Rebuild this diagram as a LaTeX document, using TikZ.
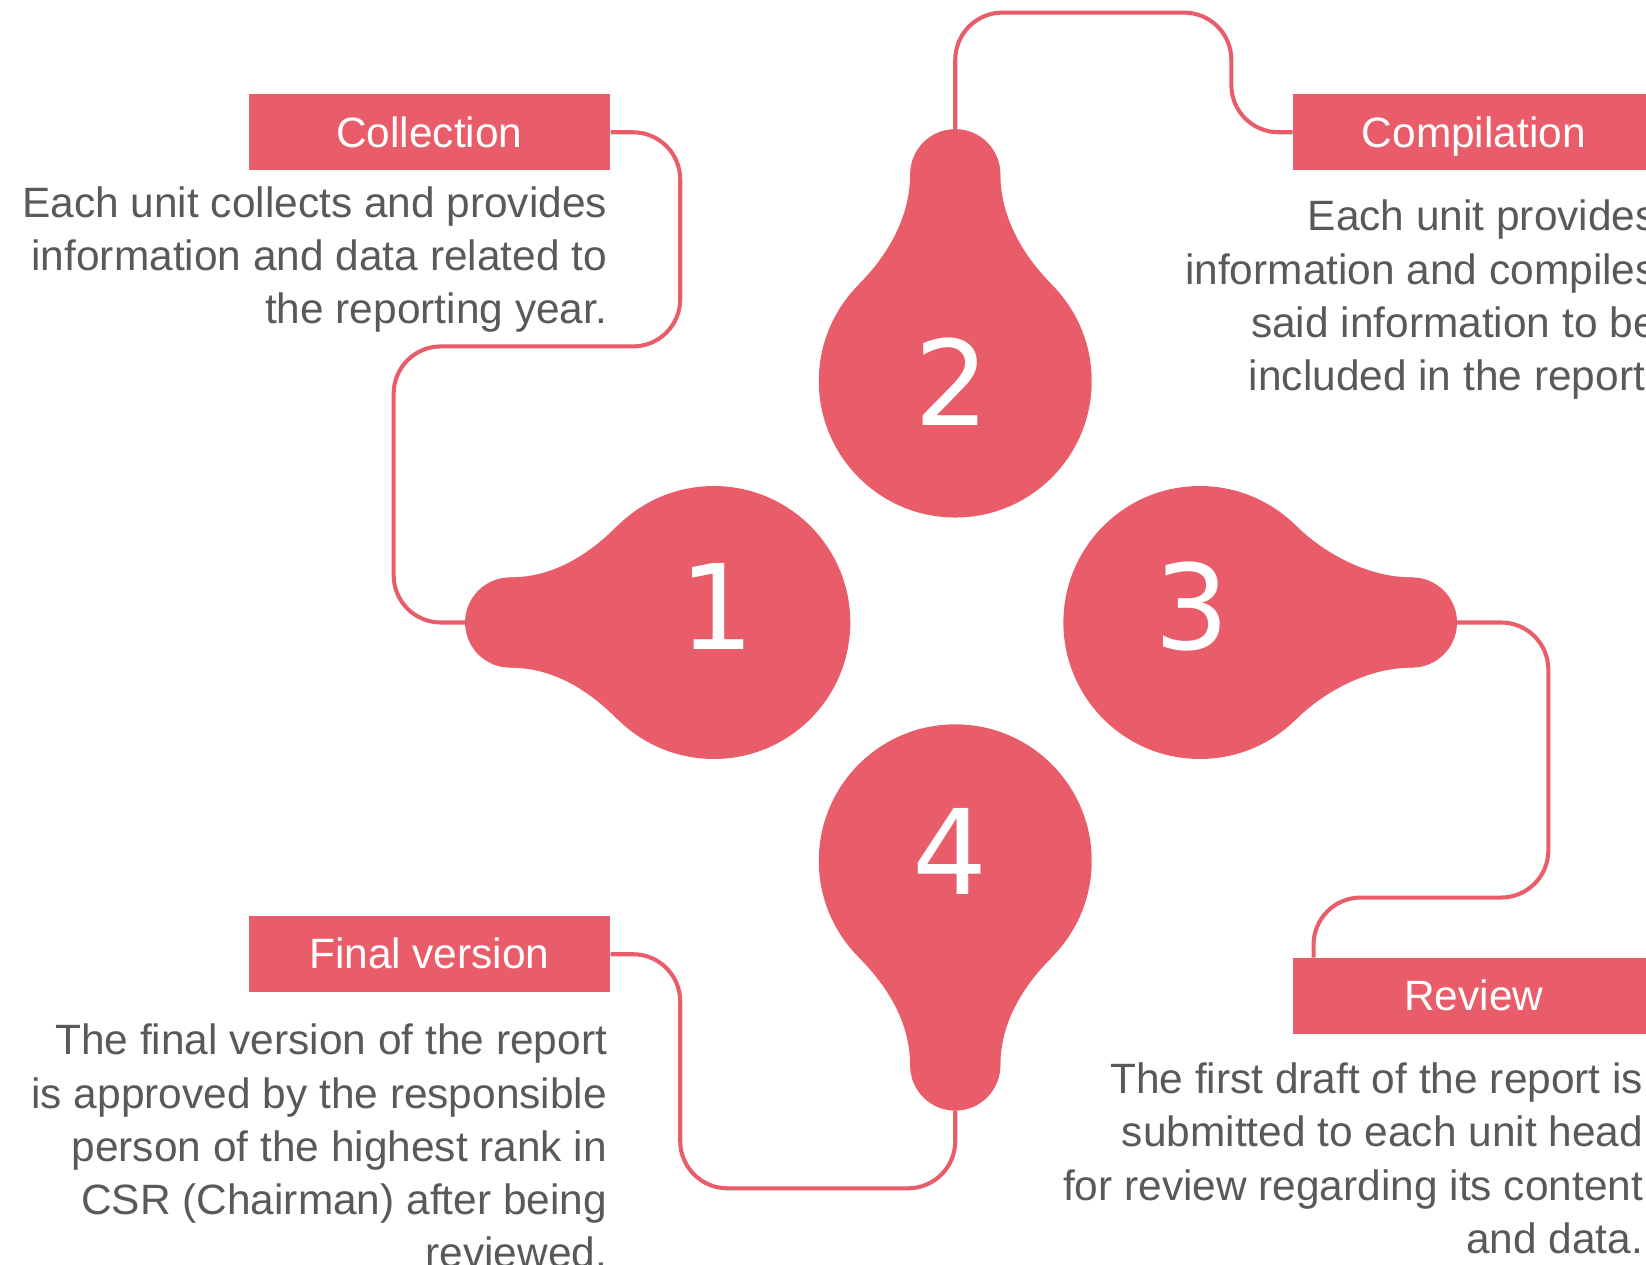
\documentclass[tikz,border=0pt]{standalone}
\usepackage{fontspec}
\setmainfont{Liberation Sans}
\newfontfamily\numfont{DejaVu Sans}
\usepackage{xcolor}
\definecolor{bulbred}{HTML}{E95D6A}
\definecolor{textgray}{HTML}{595959}
\tikzset{
    title_box/.style = {rectangle, fill=bulbred, text=white, minimum width=34.4mm, minimum height=7.2mm, inner sep=0pt, text height=8.5pt, text depth=0.5pt, font=\fontsize{11.5pt}{14pt}\selectfont},
    desc_text/.style = {align=right, inner sep=0pt, text=textgray, font=\fontsize{11.5pt}{14.4pt}\selectfont},
    num_text/.style = {inner sep=0pt, text=white, font=\numfont\fontsize{32pt}{36pt}\selectfont},
    link_line/.style = {draw=bulbred, line width=1.1pt, rounded corners=4.5mm},
    bulb/.pic = {
        \fill[bulbred] (0,0) circle[radius=13mm];
        \fill[bulbred] (-#1,0) circle[radius=4.3mm];
        \fill[bulbred] (-#1,-43) .. controls (-#1+45,-43) and (-115,-69) .. (-92,-92)
            -- (-92,92) .. controls (-115,69) and (-#1+45,43) .. (-#1,43) -- cycle;
        \coordinate (-tip) at (-#1-43,0);
    }
}

\begin{document}
\begin{tikzpicture}[x=0.1mm, y=-0.1mm]
    \useasboundingbox (0,0) rectangle (1568,1205);

    % the four bulbs
    \pic (b1) at (680,593) {bulb=194};
    \pic[rotate=-90] (b2) at (910,363) {bulb=197};
    \pic[rotate=180] (b3) at (1143,593) {bulb=202};
    \pic[rotate=90] (b4) at (910,820) {bulb=195};

    \node[num_text] (n1) at (683,578) {1};
    \node[num_text] (n2) at (907,364) {2};
    \node[num_text] (n3) at (1136,578) {3};
    \node[num_text] (n4) at (905,811) {4};

    % titles
    \node[title_box] (coll) at (409,126) {Collection};
    \node[title_box] (comp) at (1404,126) {Compilation};
    \node[title_box] (rev) at (1404,949) {Review};
    \node[title_box] (fin) at (409,909) {Final version};

    % descriptions
    \node[desc_text, anchor=north east] (colltxt) at (579,177)
        {Each unit collects and provides\\information and data related to\\the reporting year.};
    \node[desc_text, anchor=north east] (comptxt) at (1579,190)
        {Each unit provides\\information and compiles\\said information to be\\included in the report.};
    \node[desc_text, anchor=north east] (revtxt) at (1566,1012)
        {The first draft of the report is\\submitted to each unit head\\for review regarding its content\\and data.};
    \node[desc_text, anchor=north east] (fintxt) at (579,975)
        {The final version of the report\\is approved by the responsible\\person of the highest rank in\\CSR (Chairman) after being\\reviewed.};

    % connectors
    \draw[link_line] (coll.east) -| (648,330) -- (375,330) |- (b1-tip);
    \draw[link_line] (b2-tip) |- (1173,12) |- (comp.west);
    \draw[link_line] (b3-tip) -| (1475,855) -| ([xshift=2mm]rev.north west);
    \draw[link_line] (b4-tip) |- (648,1132) |- (fin.east);
\end{tikzpicture}
\end{document}
